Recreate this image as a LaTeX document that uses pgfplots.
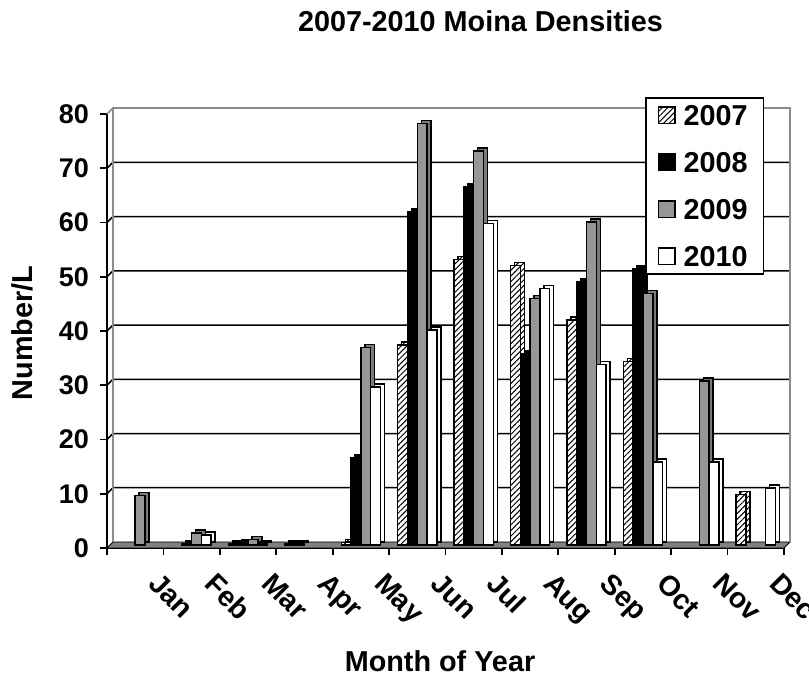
\documentclass[border=0pt]{standalone}
\usepackage{fontspec}
\setmainfont{Liberation Sans}
\usepackage{pgfplots}
\usepackage{pgfplotstable}
\pgfplotsset{compat=1.18}
\usetikzlibrary{patterns.meta}

\definecolor{bargray}{HTML}{969696}
\definecolor{sidegray}{HTML}{7A7A7A}
\definecolor{floorgray}{HTML}{808080}
\definecolor{wallgray}{HTML}{8C8C8C}

\pgfplotstableread{
x    y07   y08   y09   y10
0.5  nan   nan   9.1   nan
1.5  nan   0.2   2.2   1.8
2.5  0.3   0.4   1.0   0.3
3.5  0.3   0.3   nan   nan
4.5  0.5   16.1  36.4  29.1
5.5  36.9  61.4  77.7  39.6
6.5  52.6  66.1  72.6  59.3
7.5  51.5  35.2  45.4  47.3
8.5  41.5  48.5  59.5  33.3
9.5  33.8  50.9  46.4  15.3
10.5 nan   nan   30.2  15.3
11.5 9.3   nan   nan   10.5
}\data

\begin{document}
\begin{tikzpicture}
\useasboundingbox (-53.5pt,-68.5pt) rectangle (351pt,274pt);
\begin{axis}[
  at={(0,0)}, anchor=south west, scale only axis,
  width=338.5pt, height=217pt,
  xmin=0, xmax=12, ymin=0, ymax=80,
  clip=false,
  axis lines*=left,
  axis line style={line width=0.9pt, black},
  xtick={0,...,12},
  xticklabels={,Jan,Feb,Mar,Apr,May,Jun,Jul,Aug,Sep,Oct,Nov,Dec},
  xticklabel style={rotate=-45, anchor=north west, xshift=1.5pt, yshift=-3pt,
    font=\bfseries\fontsize{14.2}{17}\selectfont},
  ytick={0,10,...,80},
  yticklabel style={font=\bfseries\fontsize{13.5}{16}\selectfont, xshift=-2pt},
  /pgf/number format/assume math mode=true,
  tick align=outside, major tick length=3.5pt,
  tick style={line width=0.9pt, black},
  legend style={at={(0.7947,1.039)}, anchor=north west, draw=black,
    line width=0.75pt, fill=white, inner xsep=6pt, inner ysep=1.5pt,
    row sep=9pt,
    /tikz/every odd column/.append style={column sep=2pt},
    font=\bfseries\fontsize{14.4}{17}\selectfont,
    nodes={inner sep=2pt, text height=10.5pt, text depth=0pt}},
  legend cell align=left,
  legend image code/.code={\draw[#1, yshift=-1.5pt, line width=0.6pt] (0pt,-4.15pt) rectangle (8.3pt,4.15pt);},
  every axis plot/.append style={ybar, bar width=4.9pt, draw=black, line width=0.75pt},
]
% floor and back wall
\fill[floorgray, draw=black, line width=0.4pt] (axis cs:0,0) -- (axis cs:12,0) -- ([shift={(3pt,3pt)}]axis cs:12,0) -- ([shift={(3pt,3pt)}]axis cs:0,0) -- cycle;
\pgfplotsinvokeforeach{10,20,30,40,50,60,70}{
  \draw[black, line width=0.75pt] (axis cs:0,#1) -- ([shift={(3pt,3pt)}]axis cs:0,#1) -- ([shift={(3pt,3pt)}]axis cs:12,#1);
}
\draw[wallgray, line width=0.75pt] ([shift={(3pt,3pt)}]axis cs:0,0) -- ([shift={(3pt,3pt)}]axis cs:0,80) -- ([shift={(3pt,3pt)}]axis cs:12,80) -- ([shift={(3pt,3pt)}]axis cs:12,0);
\draw[wallgray, line width=0.75pt] (axis cs:0,80) -- ([shift={(3pt,3pt)}]axis cs:0,80);

% 2007
\addplot[forget plot, bar shift=-5.35pt, fill=white,
  postaction={pattern={Lines[angle=45,distance=2pt,line width=0.5pt]}}, yshift=3pt]
  table[x=x, y=y07]{\data};
\addplot[bar shift=-7.35pt, fill=white,
  postaction={pattern={Lines[angle=45,distance=2pt,line width=0.5pt]}}, yshift=1.5pt]
  table[x=x, y=y07]{\data};
\addlegendentry{2007\hspace{5pt}}
% 2008
\addplot[forget plot, bar shift=-0.45pt, fill=black, yshift=3pt]
  table[x=x, y=y08]{\data};
\addplot[bar shift=-2.45pt, fill=black, yshift=1.5pt]
  table[x=x, y=y08]{\data};
\addlegendentry{2008\hspace{5pt}}
% 2009
\addplot[forget plot, bar shift=4.45pt, fill=sidegray, yshift=3pt]
  table[x=x, y=y09]{\data};
\addplot[bar shift=2.45pt, fill=bargray, yshift=1.5pt]
  table[x=x, y=y09]{\data};
\addlegendentry{2009\hspace{5pt}}
% 2010
\addplot[forget plot, bar shift=9.35pt, fill=white, yshift=3pt]
  table[x=x, y=y10]{\data};
\addplot[bar shift=7.35pt, fill=white, yshift=1.5pt]
  table[x=x, y=y10]{\data};
\addlegendentry{2010\hspace{5pt}}
\end{axis}
\node[anchor=base, font=\bfseries\fontsize{14.4}{17}\selectfont] at (186.75pt,258.2pt) {2007-2010 Moina Densities};
\node[rotate=90, anchor=base, font=\bfseries\fontsize{14.4}{17}\selectfont] at (-37pt,107.5pt) {Number/L};
\node[anchor=base, font=\bfseries\fontsize{14.4}{17}\selectfont] at (166.5pt,-62pt) {Month of Year};
\end{tikzpicture}
\end{document}
